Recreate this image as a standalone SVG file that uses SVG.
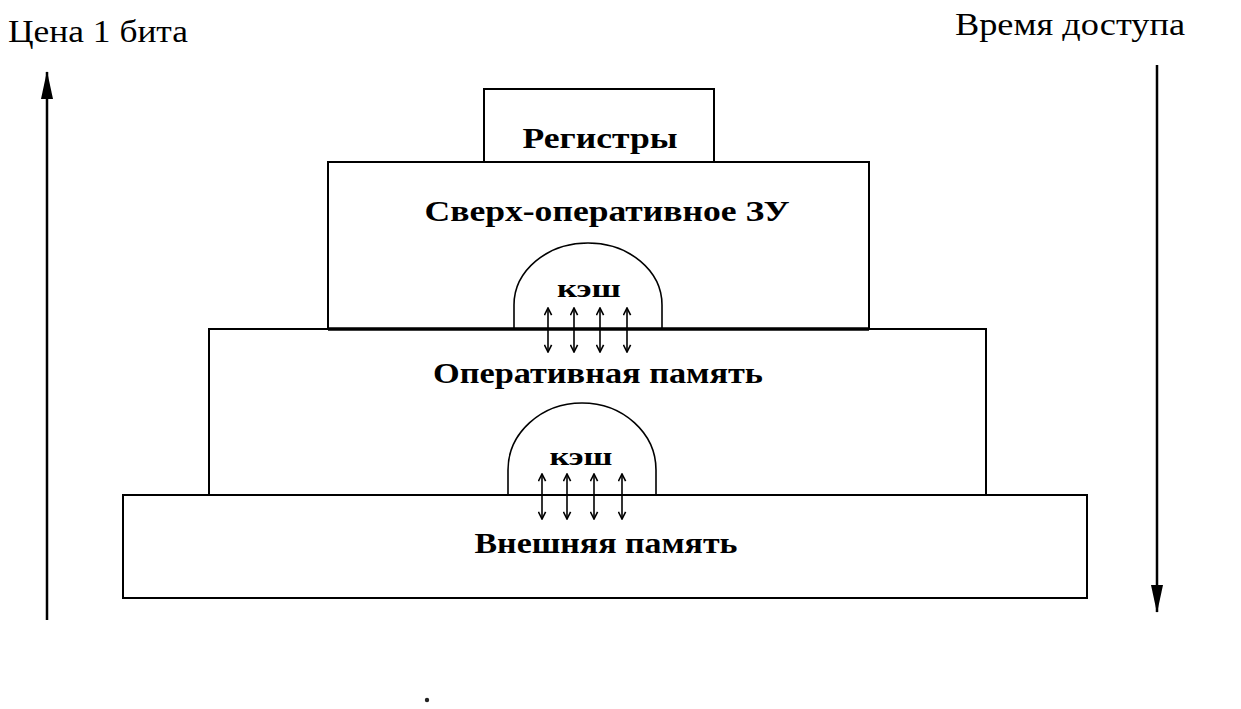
<svg xmlns="http://www.w3.org/2000/svg" width="1241" height="709" viewBox="0 0 1241 709">
<defs>
<style>
.box{fill:#fff;stroke:#000;stroke-width:2}
.lbl{font-family:"Liberation Serif","Times New Roman",serif;font-weight:bold;font-size:30px;fill:#000;text-anchor:middle}
.cache{font-family:"Liberation Serif","Times New Roman",serif;font-weight:bold;font-size:26px;fill:#000;text-anchor:middle}
.axis{font-family:"Liberation Serif","Times New Roman",serif;font-size:31px;fill:#000}
.dome{fill:none;stroke:#000;stroke-width:1.6}
.small{stroke:#000;stroke-width:1.6;fill:none;marker-start:url(#open);marker-end:url(#open)}
.big{stroke:#000;stroke-width:2.5;fill:none;marker-end:url(#solid)}
</style>
<marker id="open" viewBox="0 0 10 10" refX="9" refY="5" markerWidth="9" markerHeight="9" markerUnits="userSpaceOnUse" orient="auto-start-reverse">
<path d="M1,1 L9,5 L1,9" fill="none" stroke="#000" stroke-width="1.8"/>
</marker>
<marker id="solid" viewBox="0 0 28 16" refX="27" refY="8" markerWidth="28" markerHeight="16" markerUnits="userSpaceOnUse" orient="auto">
<path d="M0,2 L28,8 L0,14 Z" fill="#000"/>
</marker>
</defs>

<g id="axis-left">
<text class="axis" x="8" y="42" textLength="180" lengthAdjust="spacingAndGlyphs">Цена 1 бита</text>
</g>
<g id="axis-right">
<text class="axis" x="955" y="35" textLength="230" lengthAdjust="spacingAndGlyphs">Время доступа</text>
</g>

<g id="external">
<rect class="box" x="123" y="495" width="964" height="103"/>
<text class="lbl" x="606" y="553" textLength="263" lengthAdjust="spacingAndGlyphs">Внешняя память</text>
</g>

<g id="ram">
<rect class="box" x="209" y="329" width="777" height="166"/>
<text class="lbl" x="598" y="383" textLength="330" lengthAdjust="spacingAndGlyphs">Оперативная память</text>
</g>

<g id="cache2">
<path class="dome" d="M508,495 V470 A74,67 0 0 1 656,470 V495"/>
<text class="cache" x="581" y="465" textLength="63" lengthAdjust="spacingAndGlyphs">кэш</text>
</g>

<g id="sram">
<rect class="box" x="328" y="162" width="541" height="167"/>
<line x1="328" y1="329" x2="869" y2="329" stroke="#000" stroke-width="3.5"/>
<text class="lbl" x="607" y="221" textLength="365" lengthAdjust="spacingAndGlyphs">Сверх-оперативное ЗУ</text>
</g>

<g id="cache1">
<path class="dome" d="M514,329 V305 A74,62 0 0 1 662,305 V329"/>
<text class="cache" x="589" y="297" textLength="64" lengthAdjust="spacingAndGlyphs">кэш</text>
</g>

<g id="registers">
<rect class="box" x="484" y="89" width="230" height="73"/>
<text class="lbl" x="600" y="148" textLength="155" lengthAdjust="spacingAndGlyphs">Регистры</text>
</g>

<g id="connectors">
<line class="small" x1="548" y1="308" x2="548" y2="352"/>
<line class="small" x1="574" y1="308" x2="574" y2="352"/>
<line class="small" x1="600" y1="308" x2="600" y2="352"/>
<line class="small" x1="627" y1="308" x2="627" y2="352"/>
<line class="small" x1="542" y1="474" x2="542" y2="519"/>
<line class="small" x1="567" y1="474" x2="567" y2="519"/>
<line class="small" x1="594" y1="474" x2="594" y2="519"/>
<line class="small" x1="622" y1="474" x2="622" y2="519"/>
<line class="big" x1="47" y1="620" x2="47" y2="72"/>
<line class="big" x1="1157" y1="65" x2="1157" y2="612"/>
</g>

<circle cx="427" cy="700" r="2.2" fill="#222"/>
</svg>
